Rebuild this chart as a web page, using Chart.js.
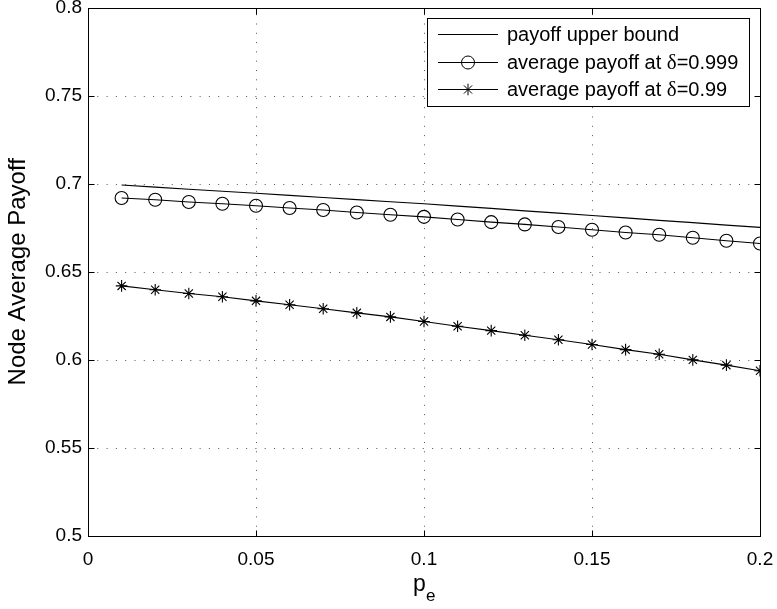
<!DOCTYPE html>
<html>
<head>
<meta charset="utf-8">
<script src="https://cdn.jsdelivr.net/npm/chart.js@4/dist/chart.umd.min.js"></script>
<style>
  html, body { margin: 0; padding: 0; background: #fff; }
  #wrap { width: 777px; height: 609px; }
</style>
</head>
<body>
<div id="wrap"><canvas id="c" width="777" height="609"></canvas></div>
<script>
// ---- data ----
const pe = [0.01, 0.02, 0.03, 0.04, 0.05, 0.06, 0.07, 0.08, 0.09, 0.10,
            0.11, 0.12, 0.13, 0.14, 0.15, 0.16, 0.17, 0.18, 0.19, 0.20];
const upperBound = [0.6993, 0.6981, 0.6969, 0.6957, 0.6946, 0.6934, 0.6922, 0.6910, 0.6898, 0.6886,
                    0.6873, 0.6860, 0.6846, 0.6833, 0.6820, 0.6806, 0.6792, 0.6779, 0.6765, 0.6752];
const payoff999 = [0.6919, 0.6909, 0.6896, 0.6886, 0.6875, 0.6862, 0.6851, 0.6837, 0.6824, 0.6812,
                   0.6797, 0.6782, 0.6769, 0.6754, 0.6739, 0.6723, 0.6710, 0.6693, 0.6676, 0.6661];
const payoff99 = [0.6420, 0.6398, 0.6377, 0.6358, 0.6335, 0.6313, 0.6290, 0.6267, 0.6244, 0.6218,
                  0.6191, 0.6166, 0.6140, 0.6114, 0.6087, 0.6058, 0.6032, 0.6000, 0.5970, 0.5938];
const seriesNames = ['payoff upper bound', 'average payoff at δ=0.999', 'average payoff at δ=0.99'];
const xTicks = [0, 0.05, 0.1, 0.15, 0.2];
const xTickLabels = ['0', '0.05', '0.1', '0.15', '0.2'];
const yTicks = [0.5, 0.55, 0.6, 0.65, 0.7, 0.75, 0.8];
const yTickLabels = ['0.5', '0.55', '0.6', '0.65', '0.7', '0.75', '0.8'];
const yTitle = 'Node Average Payoff';
const xTitleMain = 'p';
const xTitleSub = 'e';

const FONT = '"Liberation Sans", Arial, Helvetica, sans-serif';
const SERIF = '"Liberation Serif", "DejaVu Serif", serif';
const pts = ys => pe.map((x, i) => ({ x: x, y: ys[i] }));

const markers = [
  { style: false, radius: 0 },
  { style: 'circle', radius: 6.5 },
  { style: 'star', radius: 5.8 }
];

const zeroPad = s => { s.paddingTop = 0; s.paddingBottom = 0; s.paddingLeft = 0; s.paddingRight = 0; };

// grid, box, inward ticks, axis title, legend
const framePlugin = {
  id: 'frame',
  beforeDatasetsDraw(chart) {
    const { ctx, chartArea: a, scales } = chart;
    ctx.save();
    ctx.strokeStyle = '#555';
    ctx.lineWidth = 1;
    ctx.setLineDash([1, 8.3]);
    xTicks.forEach(v => {
      const px = Math.round(scales.x.getPixelForValue(v)) + 0.5;
      if (px > a.left + 2 && px < a.right - 2) {
        ctx.beginPath(); ctx.moveTo(px, a.bottom); ctx.lineTo(px, a.top); ctx.stroke();
      }
    });
    yTicks.forEach(v => {
      const py = Math.round(scales.y.getPixelForValue(v)) + 0.5;
      if (py > a.top + 2 && py < a.bottom - 2) {
        ctx.beginPath(); ctx.moveTo(a.left, py); ctx.lineTo(a.right, py); ctx.stroke();
      }
    });
    ctx.restore();
  },
  afterDatasetsDraw(chart) {
    const { ctx, chartArea: a, scales } = chart;
    ctx.save();
    ctx.strokeStyle = '#000';
    ctx.lineWidth = 1;
    ctx.setLineDash([]);
    const L = Math.round(a.left) + 0.5, R = Math.round(a.right) + 0.5;
    const T = Math.round(a.top) + 0.5, B = Math.round(a.bottom) + 0.5;
    ctx.strokeRect(L, T, R - L, B - T);
    const tl = 6;
    ctx.beginPath();
    xTicks.forEach(v => {
      const px = Math.round(scales.x.getPixelForValue(v)) + 0.5;
      ctx.moveTo(px, B); ctx.lineTo(px, B - tl);
      ctx.moveTo(px, T); ctx.lineTo(px, T + tl);
    });
    yTicks.forEach(v => {
      const py = Math.round(scales.y.getPixelForValue(v)) + 0.5;
      ctx.moveTo(L, py); ctx.lineTo(L + tl, py);
      ctx.moveTo(R, py); ctx.lineTo(R - tl, py);
    });
    ctx.stroke();

    // x axis title p_e
    ctx.fillStyle = '#000';
    ctx.textBaseline = 'alphabetic';
    ctx.textAlign = 'left';
    ctx.font = '23px ' + FONT;
    const cx = (a.left + a.right) / 2;
    ctx.fillText(xTitleMain, cx - 11, 591);
    ctx.font = '17px ' + FONT;
    ctx.fillText(xTitleSub, cx + 2, 601);

    // legend box
    const bx = 427.5, by = 18.5, bw = 322, bh = 88;
    ctx.fillStyle = '#fff';
    ctx.fillRect(bx, by, bw, bh);
    ctx.strokeRect(bx, by, bw, bh);
    const rows = [34, 62, 89];
    ctx.textBaseline = 'middle';
    chart.data.datasets.forEach((ds, i) => {
      const y = rows[i] + 0.5;
      ctx.strokeStyle = '#000';
      ctx.lineWidth = 1;
      ctx.beginPath(); ctx.moveTo(438, y); ctx.lineTo(498, y); ctx.stroke();
      if (markers[i].style) {
        ctx.fillStyle = 'rgba(0,0,0,0)';
        Chart.helpers.drawPoint(ctx, {
          pointStyle: markers[i].style, radius: markers[i].radius,
          borderWidth: 1, rotation: 0
        }, 468, y);
      }
      ctx.fillStyle = '#000';
      // draw label; Greek letter in a serif face like the reference
      let x = 507;
      const parts = ds.label.split(/(δ)/);
      parts.forEach(p => {
        if (!p) return;
        ctx.font = (p === 'δ' ? '21px ' + SERIF : '20px ' + FONT);
        ctx.fillText(p, x, rows[i] + 1);
        x += ctx.measureText(p).width;
      });
    });
    ctx.restore();
  }
};

const data = {
  datasets: [upperBound, payoff999, payoff99].map((ys, i) => ({
    label: seriesNames[i],
    data: pts(ys),
    showLine: true,
    borderColor: '#000',
    backgroundColor: 'rgba(0,0,0,0)',
    borderWidth: 1.1,
    pointStyle: markers[i].style,
    pointRadius: markers[i].radius,
    pointHoverRadius: markers[i].radius,
    pointBorderColor: '#000',
    pointBackgroundColor: 'rgba(0,0,0,0)',
    pointBorderWidth: 1.1,
    tension: 0
  }))
};

new Chart(document.getElementById('c'), {
  type: 'scatter',
  data: data,
  plugins: [framePlugin],
  options: {
    responsive: false,
    devicePixelRatio: 1,
    animation: false,
    events: [],
    layout: { padding: { top: 6, right: 17, left: 0, bottom: 0 } },
    plugins: { legend: { display: false }, tooltip: { enabled: false } },
    scales: {
      x: {
        type: 'linear', min: 0, max: 0.2,
        afterBuildTicks: s => { s.ticks = xTicks.map(v => ({ value: v })); },
        afterFit: s => { s.height = 73; zeroPad(s); },
        grid: { display: false, drawTicks: false },
        border: { display: false },
        ticks: {
          color: '#000', padding: 12, maxRotation: 0, autoSkip: false,
          font: { family: FONT, size: 19 },
          callback: (v, i) => xTickLabels[i]
        }
      },
      y: {
        type: 'linear', min: 0.5, max: 0.8,
        afterBuildTicks: s => { s.ticks = yTicks.map(v => ({ value: v })); },
        afterFit: s => { s.width = 88; zeroPad(s); },
        grid: { display: false, drawTicks: false },
        border: { display: false },
        title: {
          display: true, text: yTitle, color: '#000',
          font: { family: FONT, size: 24 }, padding: { top: 4, bottom: 0 }
        },
        ticks: {
          color: '#000', padding: 6, autoSkip: false,
          font: { family: FONT, size: 19 },
          callback: (v, i) => yTickLabels[i]
        }
      }
    }
  }
});
</script>
</body>
</html>
